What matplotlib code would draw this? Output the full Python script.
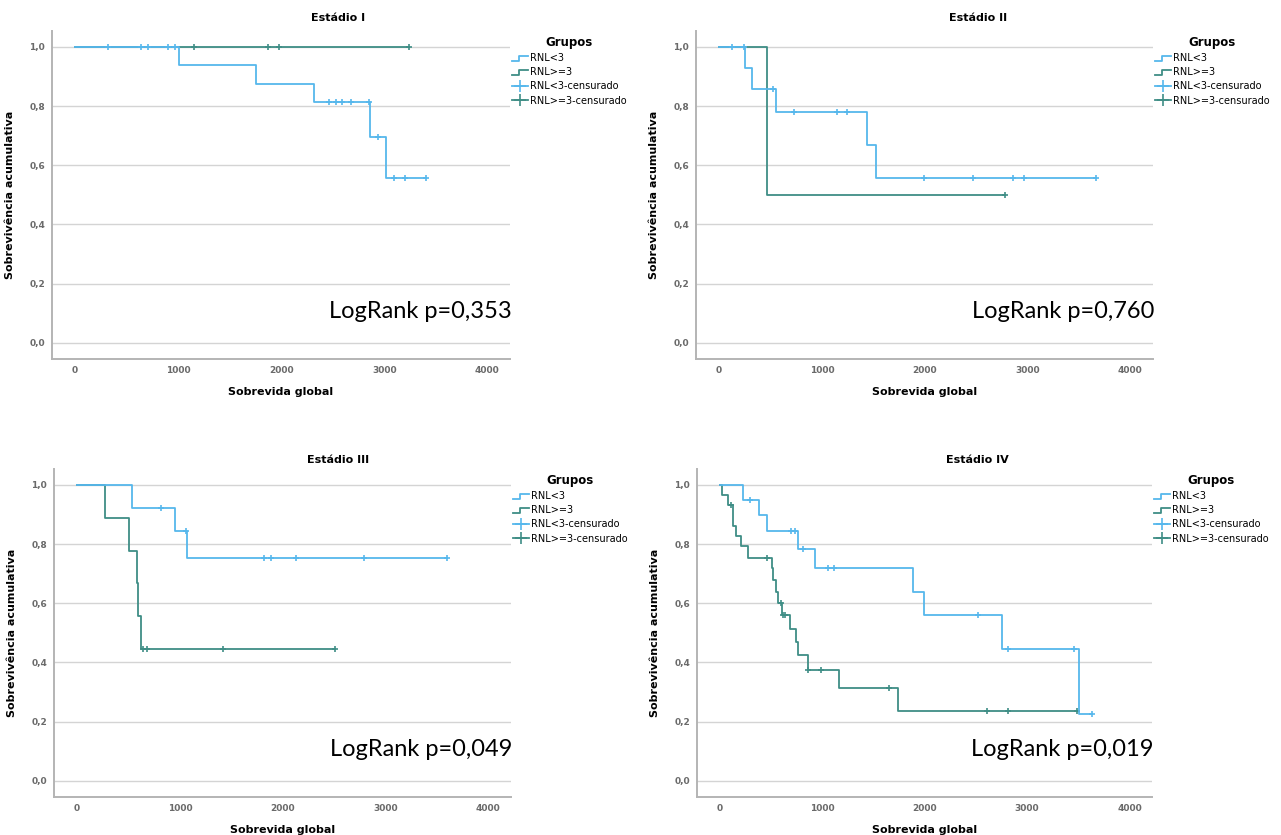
import numpy as np
import matplotlib
matplotlib.use("Agg")
import matplotlib.pyplot as plt
from matplotlib.lines import Line2D
from matplotlib.legend_handler import HandlerBase

# ---- data ----
titles = ["Estádio I", "Estádio II", "Estádio III", "Estádio IV"]
pvals = ["LogRank p=0,353", "LogRank p=0,760", "LogRank p=0,049", "LogRank p=0,019"]
labels = ["RNL<3", "RNL>=3", "RNL<3-censurado", "RNL>=3-censurado"]

# Estadio I
s1_lo_t = [0, 1007, 1752, 2317, 2862, 3017]
s1_lo_s = [1.0, 0.9375, 0.875, 0.8125, 0.697, 0.5575]
s1_lo_end = 3405
s1_lo_cens = [323, 639, 710, 903, 968, 2462, 2527, 2588, 2678, 2849, 2936, 3098, 3204, 3405]
s1_hi_t = [0]
s1_hi_s = [1.0]
s1_hi_end = 3243
s1_hi_cens = [1154, 1871, 1975, 3243]

# Estadio II
s2_lo_t = [0, 251, 315, 553, 1441, 1529]
s2_lo_s = [1.0, 0.929, 0.857, 0.78, 0.669, 0.557]
s2_lo_end = 3668
s2_lo_cens = [124, 245, 527, 725, 1145, 1246, 1993, 2465, 2855, 2966, 3668]
s2_hi_t = [0, 465]
s2_hi_s = [1.0, 0.5]
s2_hi_end = 2780
s2_hi_cens = [2780]

# Estadio III
s3_lo_t = [0, 533, 948, 1070]
s3_lo_s = [1.0, 0.923, 0.846, 0.752]
s3_lo_end = 3597
s3_lo_cens = [818, 1062, 1818, 1883, 2127, 2795, 3597]
s3_hi_t = [0, 270, 508, 580, 590, 623]
s3_hi_s = [1.0, 0.889, 0.778, 0.667, 0.556, 0.444]
s3_hi_end = 2506
s3_hi_cens = [645, 677, 1420, 2506]

# Estadio IV
s4_lo_t = [0, 222, 381, 462, 758, 927, 1886, 1990, 2755, 3505]
s4_lo_s = [1.0, 0.949, 0.897, 0.846, 0.783, 0.72, 0.638, 0.559, 0.446, 0.224]
s4_lo_end = 3635
s4_lo_cens = [293, 690, 732, 813, 1050, 1112, 2520, 2814, 3454, 3635]
s4_hi_t = [0, 15, 82, 130, 156, 205, 276, 507, 522, 548, 564, 601, 683, 742, 758, 856, 1161, 1740]
s4_hi_s = [1.0, 0.966, 0.932, 0.862, 0.828, 0.793, 0.752, 0.719, 0.678, 0.638, 0.601, 0.562,
           0.514, 0.469, 0.424, 0.375, 0.313, 0.235]
s4_hi_end = 3485
s4_hi_cens = [105, 462, 596, 613, 636, 856, 985, 1653, 2610, 2810, 3485]

panels = [
    (s1_lo_t, s1_lo_s, s1_lo_end, s1_lo_cens, s1_hi_t, s1_hi_s, s1_hi_end, s1_hi_cens),
    (s2_lo_t, s2_lo_s, s2_lo_end, s2_lo_cens, s2_hi_t, s2_hi_s, s2_hi_end, s2_hi_cens),
    (s3_lo_t, s3_lo_s, s3_lo_end, s3_lo_cens, s3_hi_t, s3_hi_s, s3_hi_end, s3_hi_cens),
    (s4_lo_t, s4_lo_s, s4_lo_end, s4_lo_cens, s4_hi_t, s4_hi_s, s4_hi_end, s4_hi_cens),
]

BLUE = "#56b7ec"
GREEN = "#3f8e86"
GRID = "#d4d4d4"
SPINE = "#b4b4b4"
TICK = "#6a6a6a"


class HandlerStep(HandlerBase):
    # little step-shaped icon like the SPSS legend
    def create_artists(self, legend, orig, xd, yd, w, h, fontsize, trans):
        x = np.array([0, 0.45, 0.45, 1.0]) * w - xd
        y = np.array([0.1, 0.1, 0.8, 0.8]) * h - yd
        ln = Line2D(x, y, color=orig.get_color(), lw=1.3, transform=trans)
        return [ln]


def km_draw(ax, t, s, end, cens, color):
    xs = list(t) + [end]
    ys = list(s) + [s[-1]]
    ax.step(xs, ys, where="post", color=color, lw=1.3)
    idx = np.searchsorted(t, cens, side="right") - 1
    cy = np.array(s)[idx]
    ax.plot(cens, cy, ls="none", marker="+", ms=5, mew=1.2, color=color)


fig = plt.figure(figsize=(12.81, 8.35), dpi=100)
W, H = 1281, 835

# axes boxes in pixels: left, top, right, bottom
boxes = [(52, 31, 510, 359), (696, 31, 1153, 359),
         (54, 469, 511, 797), (697, 469, 1152, 797)]
title_x = [338, 978, 338, 977]
title_y = [18, 18, 460, 460]

for i, (l, tp, r, b) in enumerate(boxes):
    ax = fig.add_axes([l / W, (H - b) / H, (r - l) / W, (b - tp) / H])
    lo_t, lo_s, lo_end, lo_c, hi_t, hi_s, hi_end, hi_c = panels[i]

    for yv in np.arange(0, 1.01, 0.2):
        ax.axhline(yv, color=GRID, lw=1, zorder=0)

    km_draw(ax, hi_t, hi_s, hi_end, hi_c, GREEN)
    km_draw(ax, lo_t, lo_s, lo_end, lo_c, BLUE)

    ax.set_xlim(-225, 4220)
    ax.set_ylim(-0.055, 1.054)
    ax.set_xticks([0, 1000, 2000, 3000, 4000])
    ax.set_yticks(np.arange(0, 1.01, 0.2))
    ax.set_yticklabels([f"{v:.1f}".replace(".", ",") for v in np.arange(0, 1.01, 0.2)])
    ax.tick_params(length=0, labelsize=6.5, labelcolor=TICK, pad=5)
    for lab in ax.get_xticklabels() + ax.get_yticklabels():
        lab.set_fontweight("bold")
    for sp in ["top", "right"]:
        ax.spines[sp].set_visible(False)
    for sp in ["left", "bottom"]:
        ax.spines[sp].set_color(SPINE)
        ax.spines[sp].set_linewidth(1.4)

    ax.set_xlabel("Sobrevida global", fontsize=8, fontweight="bold", labelpad=9)
    ax.set_ylabel("Sobrevivência acumulativa", fontsize=8, fontweight="bold", labelpad=10)

    fig.text(title_x[i] / W, 1 - title_y[i] / H, titles[i], ha="center", va="center",
             fontsize=8, fontweight="bold")

    ax.text(1.004, 0.145, pvals[i], transform=ax.transAxes, ha="right", va="center",
            fontsize=17, family="Lato")

    handles = [Line2D([], [], color=BLUE), Line2D([], [], color=GREEN),
               Line2D([], [], color=BLUE, marker="+", ms=9, mew=1.2, lw=1.3),
               Line2D([], [], color=GREEN, marker="+", ms=9, mew=1.2, lw=1.3)]
    leg = ax.legend(handles, labels, loc="upper left", bbox_to_anchor=(1.0, 0.99),
                    frameon=False, fontsize=7, title="Grupos", numpoints=1,
                    title_fontproperties={"weight": "bold", "size": 8.5},
                    handlelength=1.6, handletextpad=0.3, labelspacing=0.42,
                    borderaxespad=0, borderpad=0.2,
                    handler_map={handles[0]: HandlerStep(), handles[1]: HandlerStep()})

fig.savefig("out.png", dpi=100)
